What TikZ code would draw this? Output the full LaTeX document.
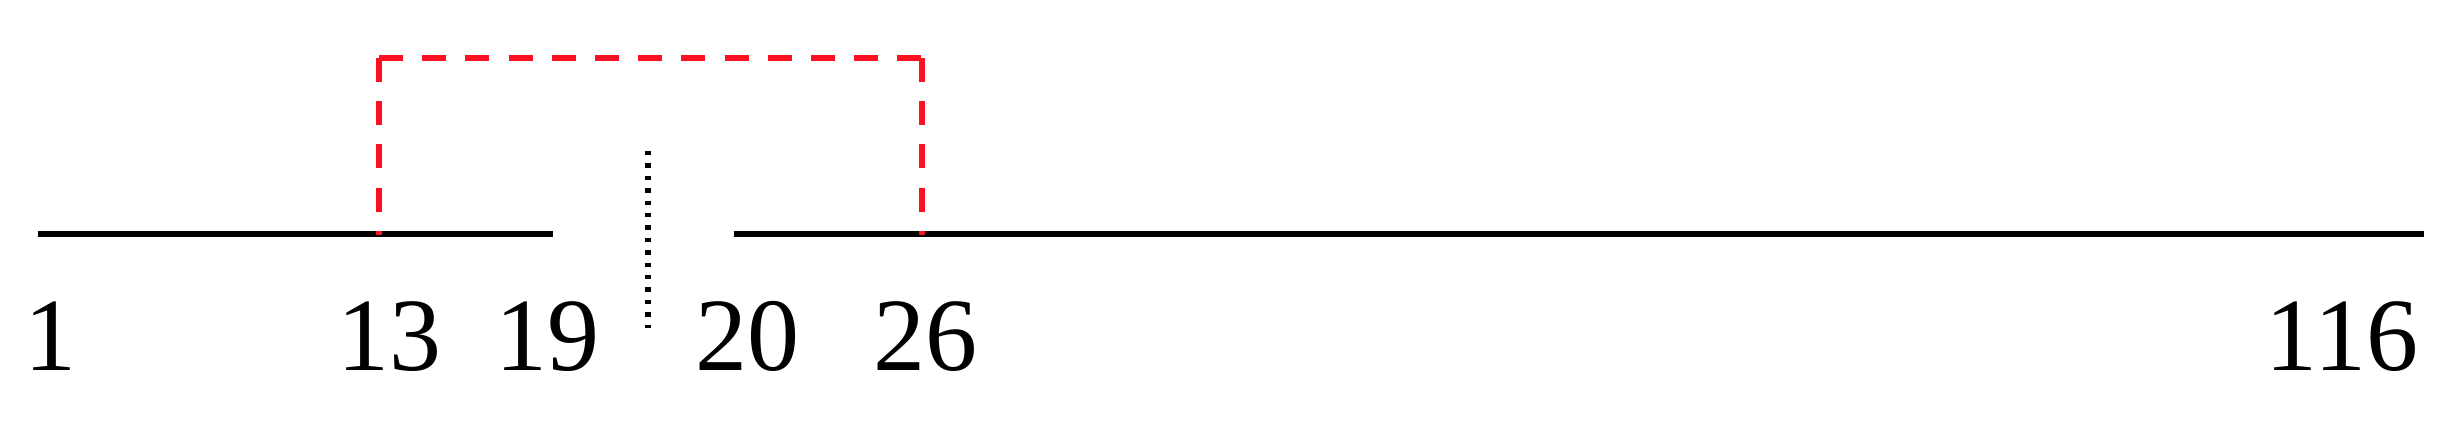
\documentclass[tikz,border=0pt]{standalone}
\usepackage{fontspec}
\setmainfont{Liberation Serif}
\definecolor{dashred}{RGB}{250,17,34}
\begin{document}
\begin{tikzpicture}[x=0.5pt,y=-0.5pt,
  seqline/.style={line width=3.4pt,black,line cap=butt},
  linkline/.style={line width=3.1pt,dashred,dash pattern=on 12pt off 9.6pt,line cap=butt},
  cutline/.style={line width=2.8pt,black,dash pattern=on 2.2pt off 4pt,line cap=butt},
  lbl/.style={anchor=base,inner sep=0pt,font=\fontsize{52}{52}\selectfont}]
\useasboundingbox (0,0) rectangle (2458,434);
% coordinates
\coordinate (l1s) at (38,234);
\coordinate (l1e) at (553,234);
\coordinate (l2s) at (734,234);
\coordinate (l2e) at (2424,234);
\coordinate (tl) at (379,58);
\coordinate (bl) at (379,235);
\coordinate (tr) at (922,58);
\coordinate (br) at (922,235);
\coordinate (ct) at (648,151);
\coordinate (cb) at (648,328);
% black segments
\draw[seqline] (l1s) -- (l1e);
\draw[seqline] (l2s) -- (l2e);
% red dashed link
\draw[linkline] (tl) -- (bl);
\draw[linkline] (tl) -- (tr);
\draw[linkline] (tr) -- (br);
% dotted cut
\draw[cutline] (ct) -- (cb);
% labels
\node[lbl] (n1) at (51,370) {1};
\node[lbl] (n13) at (389,370) {13};
\node[lbl] (n19) at (547,370) {19};
\node[lbl] (n20) at (747,370) {20};
\node[lbl] (n26) at (925,370) {26};
\node[lbl] (n116) at (2342,370) {116};
\end{tikzpicture}
\end{document}
